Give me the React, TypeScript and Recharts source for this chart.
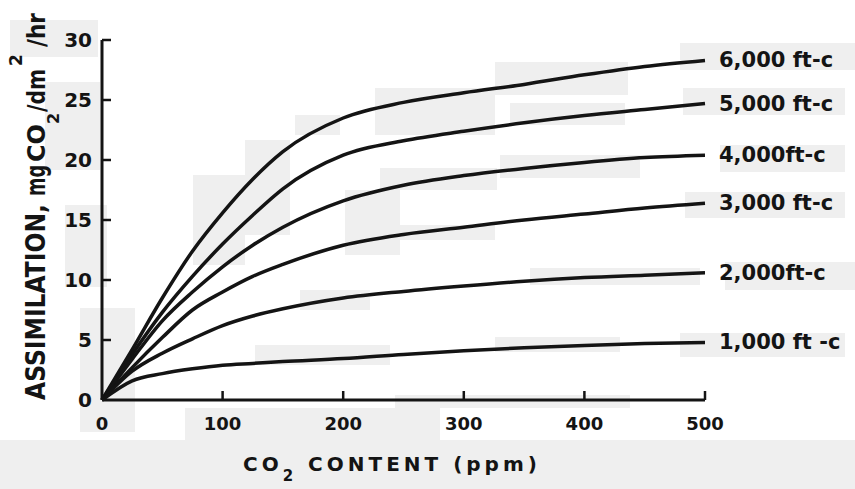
import React from "react";
import { LineChart, Line, XAxis, YAxis } from "recharts";

// CO2 content (ppm) and assimilation (mg CO2/dm2/hr)
const co2Ppm = [0, 25, 50, 75, 100, 125, 150, 200, 250, 300, 350, 400, 450, 500];
const fc6000 = [0, 4.2, 8.5, 12.4, 15.6, 18.4, 20.7, 23.5, 24.8, 25.6, 26.3, 27.1, 27.8, 28.3];
const fc5000 = [0, 3.8, 7.3, 10.3, 13.0, 15.4, 17.6, 20.4, 21.6, 22.4, 23.1, 23.7, 24.2, 24.7];
const fc4000 = [0, 3.4, 6.6, 9.0, 11.1, 12.9, 14.4, 16.6, 17.9, 18.7, 19.3, 19.8, 20.2, 20.4];
const fc3000 = [0, 2.7, 5.2, 7.5, 9.0, 10.3, 11.3, 12.9, 13.8, 14.4, 15.0, 15.5, 16.0, 16.4];
const fc2000 = [0, 2.4, 3.9, 5.1, 6.2, 7.0, 7.6, 8.5, 9.05, 9.5, 9.9, 10.2, 10.4, 10.6];
const fc1000 = [0, 1.6, 2.2, 2.6, 2.9, 3.05, 3.2, 3.45, 3.8, 4.1, 4.35, 4.55, 4.7, 4.8];

const seriesKeys = ["fc6000", "fc5000", "fc4000", "fc3000", "fc2000", "fc1000"];
const seriesNames = ["6,000 ft-c", "5,000 ft-c", "4,000ft-c", "3,000 ft-c", "2,000ft-c", "1,000 ft -c"];
const seriesValues = [fc6000, fc5000, fc4000, fc3000, fc2000, fc1000];
// printed width of each curve label, px
const labelWidths = [134, 127, 123, 127, 130, 127];

const xTicks = [0, 100, 200, 300, 400, 500];
const yTicks = [0, 5, 10, 15, 20, 25, 30];

// light grey patches left by the scanner: [left, top, width, height]
const scanPatches: number[][] = [
  [0, 440, 855, 49],
  [10, 20, 88, 37],
  [45, 82, 55, 88],
  [65, 205, 42, 82],
  [80, 308, 55, 124],
  [185, 408, 255, 32],
  [395, 395, 235, 13],
  [680, 43, 175, 27],
  [683, 88, 162, 27],
  [720, 145, 125, 27],
  [685, 192, 160, 26],
  [725, 262, 130, 28],
  [680, 333, 165, 24],
  [495, 62, 133, 33],
  [510, 103, 115, 22],
  [375, 88, 120, 47],
  [295, 115, 45, 20],
  [245, 140, 45, 95],
  [193, 175, 52, 90],
  [380, 168, 117, 22],
  [500, 155, 140, 23],
  [345, 190, 55, 65],
  [400, 225, 95, 15],
  [300, 290, 70, 20],
  [530, 268, 170, 17],
  [255, 345, 135, 20],
  [495, 337, 125, 15],
];

const INK = "#141414";
const FONT = "'DejaVu Sans', sans-serif";

const data = co2Ppm.map((ppm, i) => {
  const row: Record<string, number> = { ppm };
  seriesKeys.forEach((k, s) => {
    row[k] = seriesValues[s][i];
  });
  return row;
});

function XTick(props: any) {
  const { x, y, payload } = props;
  return (
    <g>
      {payload.value !== 0 && <line x1={x} x2={x} y1={y} y2={y - 9} stroke={INK} strokeWidth={2.5} />}
      <text x={x} y={y + 30} textAnchor="middle" fill={INK} fontSize={18} fontWeight="bold" fontFamily={FONT}>
        {payload.value}
      </text>
    </g>
  );
}

function YTick(props: any) {
  const { x, y, payload } = props;
  return (
    <g>
      {payload.value !== 0 && <line x1={x} x2={x + 9} y1={y} y2={y} stroke={INK} strokeWidth={2.5} />}
      <text x={x - 10} y={y + 7} textAnchor="end" fill={INK} fontSize={20} fontWeight="bold" fontFamily={FONT}>
        {payload.value}
      </text>
    </g>
  );
}

function EndLabel(props: any) {
  const { x, y, index, text, width } = props;
  if (index !== co2Ppm.length - 1) return <g />;
  return (
    <text
      x={x + 14}
      y={y + 7}
      fill={INK}
      fontSize={21}
      fontWeight="bold"
      fontFamily={FONT}
      textLength={width}
      lengthAdjust="spacing"
    >
      {text}
    </text>
  );
}

export default function App() {
  return (
    <div style={{ position: "absolute", left: 0, top: 0, width: 855, height: 489, background: "#fff", overflow: "hidden" }}>
      {scanPatches.map(([l, t, w, h], i) => (
        <div key={i} style={{ position: "absolute", left: l, top: t, width: w, height: h, background: "#efefef" }} />
      ))}
      <div style={{ position: "absolute", left: 0, top: 0 }}>
        <LineChart width={855} height={489} data={data} margin={{ top: 40, right: 150, bottom: 59, left: 62 }}>
          <XAxis
            dataKey="ppm"
            type="number"
            domain={[0, 500]}
            ticks={xTicks}
            height={30}
            tickSize={0}
            tickMargin={0}
            tick={<XTick />}
            axisLine={{ stroke: INK, strokeWidth: 3 }}
            tickLine={false}
          />
          <YAxis
            type="number"
            domain={[0, 30]}
            ticks={yTicks}
            width={40}
            tickSize={0}
            tickMargin={0}
            tick={<YTick />}
            axisLine={{ stroke: INK, strokeWidth: 3 }}
            tickLine={false}
          />
          {seriesKeys.map((k, s) => (
            <Line
              key={k}
              dataKey={k}
              type="monotone"
              stroke={INK}
              strokeWidth={3.5}
              dot={false}
              activeDot={false}
              isAnimationActive={false}
              label={<EndLabel text={seriesNames[s]} width={labelWidths[s]} />}
            />
          ))}
        </LineChart>
      </div>
      <svg width={855} height={489} style={{ position: "absolute", left: 0, top: 0, pointerEvents: "none" }}>
        {/* rotated y title, laid out piece by piece along the axis */}
        <g transform="rotate(-90 45 400)" fill={INK} fontWeight="bold" fontFamily={FONT}>
          <text x={45} y={400} fontSize={26} textLength={196} lengthAdjust="spacingAndGlyphs">ASSIMILATION,</text>
          <text x={249} y={400} fontSize={26} textLength={31} lengthAdjust="spacingAndGlyphs">mg</text>
          <text x={283} y={400} fontSize={24} textLength={38} lengthAdjust="spacingAndGlyphs">CO</text>
          <text x={321} y={414} fontSize={16}>2</text>
          <text x={333} y={400} fontSize={24} textLength={43} lengthAdjust="spacingAndGlyphs">/dm</text>
          <text x={379} y={377} fontSize={17}>2</text>
          <text x={398} y={400} fontSize={24} textLength={34} lengthAdjust="spacingAndGlyphs">/hr</text>
        </g>
        <text x={243} y={471} fill={INK} fontSize={20} fontWeight="bold" fontFamily={FONT} letterSpacing={4}>
          CO
          <tspan dy={10} fontSize={15}>2</tspan>
          <tspan dy={-10}> CONTENT (ppm)</tspan>
        </text>
      </svg>
    </div>
  );
}
